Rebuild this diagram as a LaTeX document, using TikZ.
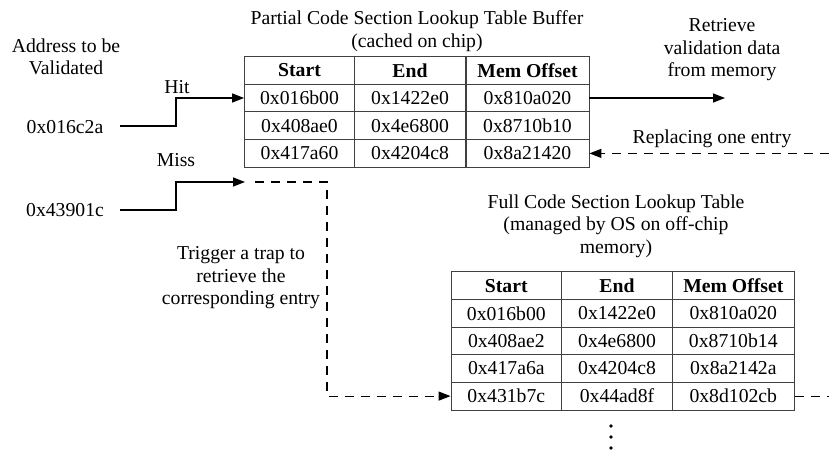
\documentclass[tikz,border=0pt]{standalone}
\usepackage{fontspec}
\setmainfont{Liberation Serif}
\usetikzlibrary{arrows.meta}
\begin{document}
\begin{tikzpicture}[x=1pt,y=-1pt,
  every node/.style={font=\fontsize{19.7}{22.5}\selectfont, inner sep=0pt, align=center},
  cell/.style={draw=black!75, line width=0.8pt, minimum height=27.7pt},
  hd/.style={cell, font=\fontsize{19.7}{22.5}\selectfont\bfseries},
  solidarrow/.style={line width=1.4pt, -{Triangle[length=12pt,width=9pt]}},
  dasharrow/.style={line width=1.2pt, dash pattern=on 9pt off 7pt, -{Triangle[length=12pt,width=9pt]}},
  dashline/.style={line width=1.2pt, dash pattern=on 9pt off 7pt}]
\useasboundingbox (0,0) rectangle (829,454);

% Upper table
\node[hd, minimum width=110pt] (u01) at (299.5,70.3) {Start};
\node[hd, minimum width=111pt] (u02) at (410,70.3) {End};
\node[hd, minimum width=123pt] (u03) at (527.5,70.3) {Mem Offset};
\node[cell, minimum width=110pt] (u11) at (299.5,98) {0x016b00};
\node[cell, minimum width=111pt] (u12) at (410,98) {0x1422e0};
\node[cell, minimum width=123pt] (u13) at (527.5,98) {0x810a020};
\node[cell, minimum width=110pt] (u21) at (299.5,125.7) {0x408ae0};
\node[cell, minimum width=111pt] (u22) at (410,125.7) {0x4e6800};
\node[cell, minimum width=123pt] (u23) at (527.5,125.7) {0x8710b10};
\node[cell, minimum width=110pt] (u31) at (299.5,153.4) {0x417a60};
\node[cell, minimum width=111pt] (u32) at (410,153.4) {0x4204c8};
\node[cell, minimum width=123pt] (u33) at (527.5,153.4) {0x8a21420};

% Lower table
\node[hd, minimum width=110.7pt] (l01) at (506.3,285.7) {Start};
\node[hd, minimum width=110.6pt] (l02) at (617,285.7) {End};
\node[hd, minimum width=122pt] (l03) at (733.3,285.7) {Mem Offset};
\node[cell, minimum width=110.7pt] (l11) at (506.3,313.3) {0x016b00};
\node[cell, minimum width=110.6pt] (l12) at (617,313.3) {0x1422e0};
\node[cell, minimum width=122pt] (l13) at (733.3,313.3) {0x810a020};
\node[cell, minimum width=110.7pt] (l21) at (506.3,340.9) {0x408ae2};
\node[cell, minimum width=110.6pt] (l22) at (617,340.9) {0x4e6800};
\node[cell, minimum width=122pt] (l23) at (733.3,340.9) {0x8710b14};
\node[cell, minimum width=110.7pt] (l31) at (506.3,368.5) {0x417a6a};
\node[cell, minimum width=110.6pt] (l32) at (617,368.5) {0x4204c8};
\node[cell, minimum width=122pt] (l33) at (733.3,368.5) {0x8a2142a};
\node[cell, minimum width=110.7pt] (l41) at (506.3,396.1) {0x431b7c};
\node[cell, minimum width=110.6pt] (l42) at (617,396.1) {0x44ad8f};
\node[cell, minimum width=122pt] (l43) at (733.3,396.1) {0x8d102cb};

% Texts
\node (t1) at (417,31) {Partial Code Section Lookup Table Buffer\\(cached on chip)};
\node (t2) at (66,57) {Address to be\\Validated};
\node (a1) at (65,127) {0x016c2a};
\node (a2) at (65,210) {0x43901c};
\node (hit) at (177,87) {Hit};
\node (miss) at (176,160) {Miss};
\node (ret) at (722,50) {Retrieve\\validation data\\from memory};
\node (rep) at (712,139) {Replacing one entry};
\node (full) at (616,226) {Full Code Section Lookup Table\\(managed by OS on off-chip\\memory)};
\node (trig) at (241,278) {Trigger a trap to\\retrieve the\\corresponding entry};

% Dots
\foreach \y in {426,437,448} \fill (611,\y) circle (1.8pt);

% Coordinates
\coordinate (hs) at (120,126);
\coordinate (ms) at (120,210);
\coordinate (mt) at (245,182);
\coordinate (ds) at (255,182);
\coordinate (dc) at (327,182);
\coordinate (re) at (725,98);
\coordinate (rr) at (829,153.4);
\coordinate (le) at (829,396.1);

% Connectors
\draw[solidarrow] (hs) -- (176,126) -- (176,98) -- (u11.west);
\draw[solidarrow] (ms) -- (176,210) -- (176,182) -- (mt);
\draw[solidarrow] (u13.east) -- (re);
\draw[dasharrow] (rr) -- (u33.east);
\draw[dasharrow] (ds) -- (dc) -- (dc |- l41.west) -- (l41.west);
\draw[dashline] (l43.east) -- (le);
\end{tikzpicture}
\end{document}
